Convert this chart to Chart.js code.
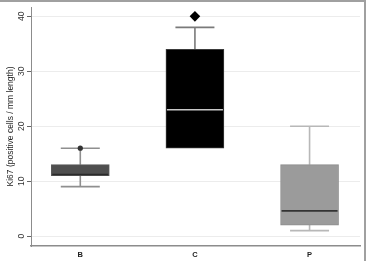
<!DOCTYPE html>
<html>
<head>
<meta charset="utf-8">
<script src="https://cdn.jsdelivr.net/npm/chart.js@4"></script>
<style>
  html, body { margin: 0; padding: 0; background: #fff; }
  #wrap { position: relative; width: 368px; height: 261px; }
</style>
</head>
<body>
<div id="wrap"><canvas id="ki67" width="368" height="261"></canvas></div>
<script>
// box plot summary per group
const groups = ['B', 'C', 'P'];
const lowWhisker = [9, 16, 1];
const q1 = [11, 16, 2];
const median = [11.2, 23, 4.6];
const q3 = [13, 34, 13];
const highWhisker = [16, 38, 20];
const outlierGroup = ['B', 'C'];
const outlierValue = [16, 40];
const yTicks = [0, 10, 20, 30, 40];

const boxColors = ['#4f4f4f', '#000000', '#9b9b9b'];
const medianColors = ['#2a2a2a', '#c8c8c8', '#333333'];
const whiskerColors = ['#8f8f8f', '#7a7a7a', '#b8b8b8'];

// whiskers go under the boxes, medians on top
const boxPlotLines = {
  id: 'boxPlotLines',
  beforeDatasetsDraw(chart) {
    const { ctx, scales: { x, y } } = chart;
    ctx.save();
    ctx.lineWidth = 1.6;
    groups.forEach((g, i) => {
      const cx = x.getPixelForValue(i + 1);
      ctx.strokeStyle = whiskerColors[i];
      ctx.beginPath();
      ctx.moveTo(cx, y.getPixelForValue(q3[i]));
      ctx.lineTo(cx, y.getPixelForValue(highWhisker[i]));
      ctx.moveTo(cx, y.getPixelForValue(q1[i]));
      ctx.lineTo(cx, y.getPixelForValue(lowWhisker[i]));
      ctx.stroke();
      [lowWhisker[i], highWhisker[i]].forEach(v => {
        if (v === q1[i] || v === q3[i]) return;
        const py = y.getPixelForValue(v);
        ctx.beginPath();
        ctx.moveTo(cx - 19.5, py);
        ctx.lineTo(cx + 19.5, py);
        ctx.stroke();
      });
    });
    ctx.restore();
  },
  afterDatasetsDraw(chart) {
    const { ctx, scales: { x, y } } = chart;
    ctx.save();
    ctx.lineWidth = 1.6;
    groups.forEach((g, i) => {
      const cx = x.getPixelForValue(i + 1);
      const py = y.getPixelForValue(median[i]);
      ctx.strokeStyle = medianColors[i];
      ctx.beginPath();
      ctx.moveTo(cx - 28, py);
      ctx.lineTo(cx + 28, py);
      ctx.stroke();
    });
    ctx.restore();
  },
  afterDraw(chart) {
    const { ctx, width, scales: { y } } = chart;
    ctx.save();
    // y tick labels, turned like the axis title
    ctx.fillStyle = '#333';
    ctx.font = '8.5px "Liberation Sans", Arial';
    ctx.textAlign = 'center';
    ctx.textBaseline = 'middle';
    yTicks.forEach(v => {
      ctx.save();
      ctx.translate(y.right - 9, y.getPixelForValue(v));
      ctx.rotate(-Math.PI / 2);
      ctx.fillText(String(v), 0, 0);
      ctx.restore();
    });
    // outer frame of the figure (top and right edges are visible)
    ctx.strokeStyle = '#a0a0a0';
    ctx.lineWidth = 2;
    ctx.beginPath();
    ctx.moveTo(0, 1);
    ctx.lineTo(width - 3, 1);
    ctx.lineTo(width - 3, chart.height);
    ctx.stroke();
    ctx.restore();
  }
};

const ctx = document.getElementById('ki67').getContext('2d');

new Chart(ctx, {
  type: 'bar',
  data: {
    datasets: [
      {
        type: 'scatter',
        data: outlierGroup.map((g, i) => ({ x: groups.indexOf(g) + 1, y: outlierValue[i] })),
        pointStyle: ['circle', 'rectRot'],
        pointRadius: [2.6, 5.3],
        backgroundColor: ['#333333', '#000000'],
        borderColor: ['#333333', '#000000'],
        borderWidth: 0
      },
      {
        data: groups.map((g, i) => ({ x: i + 1, y: [q1[i], q3[i]] })),
        backgroundColor: boxColors,
        borderColor: ['#5a5a5a', '#3a3a3a', '#8c8c8c'],
        borderWidth: 1,
        borderSkipped: false,
        barThickness: 58
      }
    ]
  },
  options: {
    responsive: false,
    animation: false,
    devicePixelRatio: 1,
    layout: { padding: { top: 7, right: 8, left: 0, bottom: 0 } },
    plugins: { legend: { display: false }, tooltip: { enabled: false } },
    scales: {
      x: {
        type: 'linear',
        offset: false,
        min: 0.57,
        max: 3.44,
        afterBuildTicks: s => { s.ticks = groups.map((g, i) => ({ value: i + 1 })); },
        afterFit: s => { s.height = 15; },
        grid: { drawOnChartArea: false, drawTicks: false },
        border: { color: '#8c8c8c', width: 1.5 },
        ticks: {
          callback: v => groups[v - 1],
          padding: 4,
          color: '#222',
          font: { family: 'Liberation Sans, Arial', size: 7.5, weight: 'bold' }
        }
      },
      y: {
        min: -1.8,
        max: 41.7,
        afterBuildTicks: s => { s.ticks = yTicks.map(v => ({ value: v })); },
        afterFit: s => { s.width = 31; },
        grid: { color: '#ececec', lineWidth: 1, tickLength: 4, tickColor: '#666' },
        border: { color: '#8c8c8c', width: 1 },
        ticks: { display: false },
        title: {
          display: true,
          text: 'Ki67 (positive cells / mm length)',
          color: '#222',
          padding: { top: 6, bottom: 0 },
          font: { family: 'Liberation Sans, Arial', size: 8.5 }
        }
      }
    }
  },
  plugins: [boxPlotLines]
});
</script>
</body>
</html>
